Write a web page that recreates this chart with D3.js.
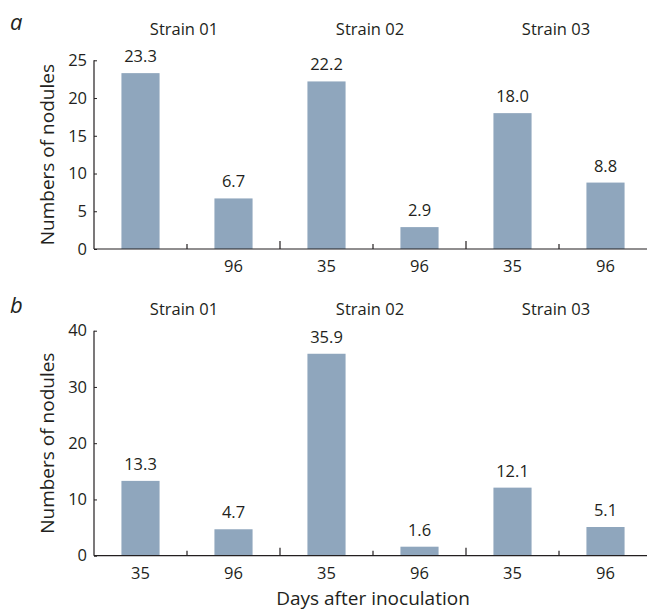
<!DOCTYPE html>
<html>
<head>
<meta charset="utf-8">
<script src="https://cdn.jsdelivr.net/npm/d3@7"></script>
<style>
  body { margin: 0; background: #fff; }
  svg { display: block; }
</style>
</head>
<body>
<div id="chart-container"></div>
<script>
// Data
const strains = ["Strain 01", "Strain 02", "Strain 03"];
const days = ["35", "96"];
const valuesA = [23.3, 6.7, 22.2, 2.9, 18.0, 8.8];
const valuesB = [13.3, 4.7, 35.9, 1.6, 12.1, 5.1];
const tickLabelsA = ["", "96", "35", "96", "35", "96"];
const tickLabelsB = ["35", "96", "35", "96", "35", "96"];
const yTicksA = [0, 5, 10, 15, 20, 25];
const yTicksB = [0, 10, 20, 30, 40];

const width = 647;
const height = 611;
const font = "'Open Sans', sans-serif";
const textColor = "#231f20";
const barColor = "#8fa6bd";
const fontSize = 16.5;
const titleSize = 19;

const svg = d3
  .create("svg")
  .attr("width", width)
  .attr("height", height)
  .style("font-family", font);

document.getElementById("chart-container").appendChild(svg.node());

// Shared x scale: 6 bars, axis runs past the right edge (cropped like the original)
const x0 = 94;
const x1 = 652;
const x = d3
  .scaleBand()
  .domain(d3.range(6))
  .range([x0, x1])
  .paddingInner(0.59)
  .paddingOuter(0.295);

// Group positions (each strain covers two bars)
const groupWidth = (x1 - x0) / 3;

function drawPanel(opts) {
  const { letter, values, tickLabels, yTicks, yMax, top, bottom, titleY, letterY, labelY } = opts;

  const y = d3.scaleLinear().domain([0, yMax]).range([bottom, top]);
  const g = svg.append("g");

  // Panel letter
  g.append("text")
    .attr("x", 10)
    .attr("y", letterY)
    .attr("font-size", 22)
    .attr("font-style", "italic")
    .attr("fill", textColor)
    .text(letter);

  // Strain titles
  g.selectAll(".strain")
    .data(strains)
    .join("text")
    .attr("x", (d, i) => x0 + groupWidth * (i + 0.5) - 3)
    .attr("y", titleY)
    .attr("text-anchor", "middle")
    .attr("font-size", fontSize)
    .attr("fill", textColor)
    .text((d) => d);

  // Bars
  g.selectAll("rect")
    .data(values)
    .join("rect")
    .attr("x", (d, i) => x(i))
    .attr("y", (d) => y(d))
    .attr("width", x.bandwidth())
    .attr("height", (d) => y(0) - y(d))
    .attr("fill", barColor);

  // Value labels
  g.selectAll(".value")
    .data(values)
    .join("text")
    .attr("x", (d, i) => x(i) + x.bandwidth() / 2)
    .attr("y", (d) => y(d) - 11)
    .attr("text-anchor", "middle")
    .attr("font-size", fontSize)
    .attr("fill", textColor)
    .text((d) => d.toFixed(1));

  // Y axis
  const yAxis = g
    .append("g")
    .attr("transform", `translate(${x0},0)`)
    .call(d3.axisLeft(y).tickValues(yTicks).tickSize(-3).tickPadding(7));
  yAxis.select(".domain").attr("stroke", textColor).attr("stroke-width", 1.2)
    .attr("d", `M0,${top}V${bottom}`);
  yAxis.selectAll(".tick line").attr("stroke", textColor);
  yAxis.selectAll(".tick text")
    .attr("font-size", fontSize)
    .attr("font-family", font)
    .attr("fill", textColor);

  // X axis line
  g.append("line")
    .attr("x1", x0)
    .attr("x2", x1)
    .attr("y1", bottom)
    .attr("y2", bottom)
    .attr("stroke", textColor)
    .attr("stroke-width", 1.2);

  // Separator ticks between bars (longer between strains)
  g.selectAll(".sep")
    .data(d3.range(1, 6))
    .join("line")
    .attr("x1", (d) => x0 + (d * (x1 - x0)) / 6)
    .attr("x2", (d) => x0 + (d * (x1 - x0)) / 6)
    .attr("y1", bottom)
    .attr("y2", (d) => bottom - (d % 2 === 0 ? 8 : 5))
    .attr("stroke", textColor)
    .attr("stroke-width", 1.2);

  // Day labels
  g.selectAll(".day")
    .data(tickLabels)
    .join("text")
    .attr("x", (d, i) => x(i) + x.bandwidth() / 2)
    .attr("y", labelY)
    .attr("text-anchor", "middle")
    .attr("font-size", fontSize)
    .attr("fill", textColor)
    .text((d) => d);

  // Y axis title
  g.append("text")
    .attr("transform", `translate(54,${(top + bottom) / 2}) rotate(-90)`)
    .attr("text-anchor", "middle")
    .attr("font-size", titleSize)
    .attr("fill", textColor)
    .text("Numbers of nodules");
}

drawPanel({
  letter: "a",
  values: valuesA,
  tickLabels: tickLabelsA,
  yTicks: yTicksA,
  yMax: 25,
  top: 60.3,
  bottom: 249,
  titleY: 35,
  letterY: 30,
  labelY: 272
});

drawPanel({
  letter: "b",
  values: valuesB,
  tickLabels: tickLabelsB,
  yTicks: yTicksB,
  yMax: 40,
  top: 330.7,
  bottom: 555.7,
  titleY: 315,
  letterY: 313,
  labelY: 579
});

// X axis title
svg.append("text")
  .attr("x", 373)
  .attr("y", 605)
  .attr("text-anchor", "middle")
  .attr("font-size", titleSize)
  .attr("fill", textColor)
  .text("Days after inoculation");
</script>
</body>
</html>
